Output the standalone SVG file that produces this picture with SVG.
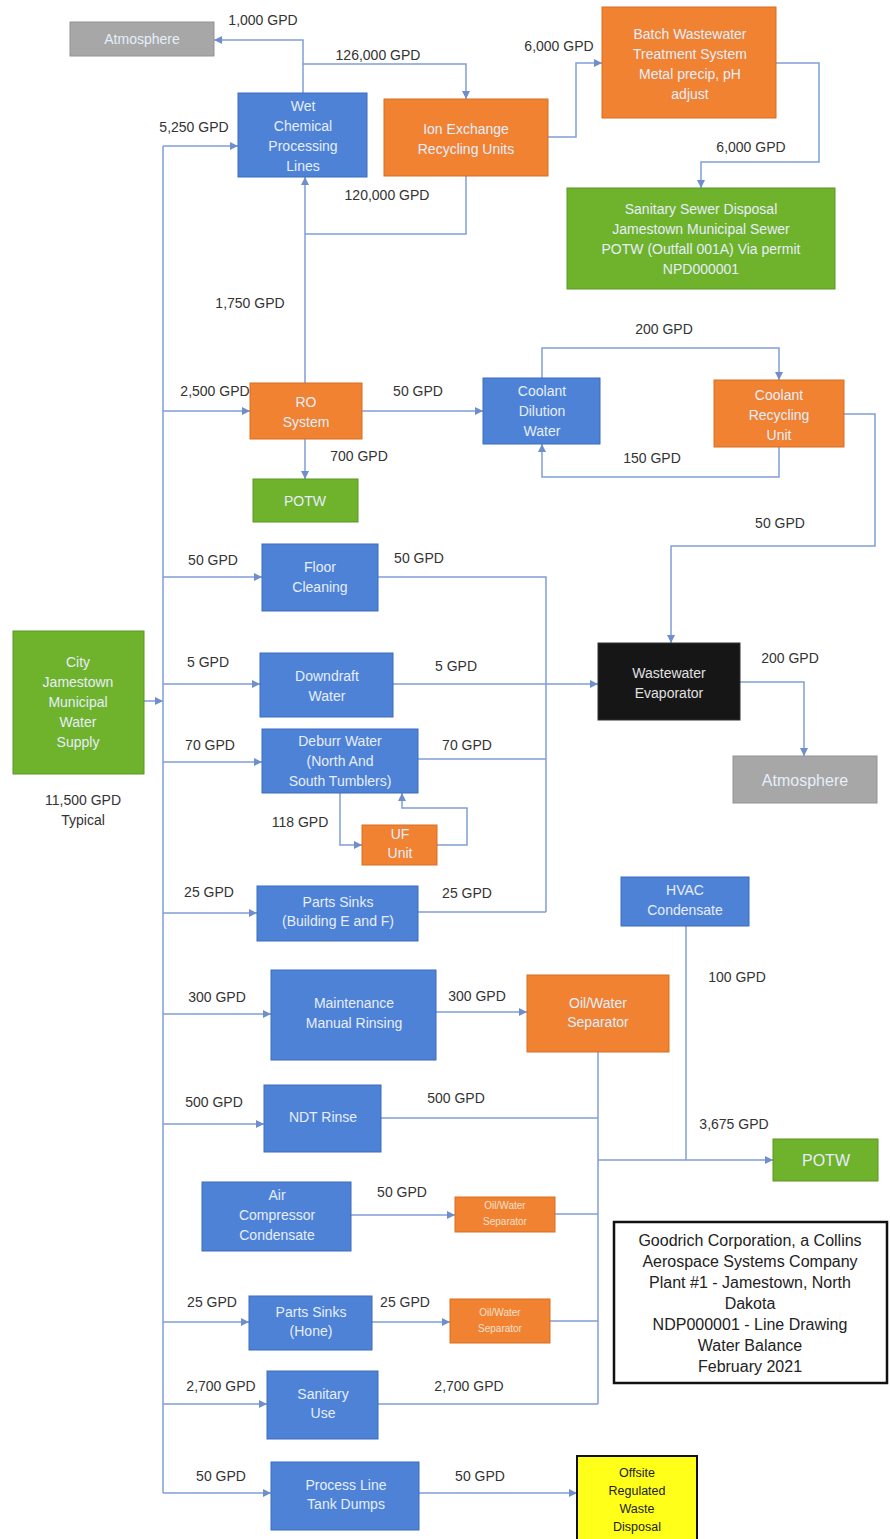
<svg xmlns="http://www.w3.org/2000/svg" width="890" height="1539" viewBox="0 0 890 1539">
<defs>
<marker id="arr" markerWidth="9" markerHeight="8" refX="8" refY="4" orient="auto" markerUnits="userSpaceOnUse">
<path d="M0,0 L8,4 L0,8 z" fill="#6f8fcc"/>
</marker>
<style>
text{font-family:"Liberation Sans",Arial,sans-serif;dominant-baseline:central;text-anchor:middle}
.lbl{font-size:14px;fill:#333}
.nt{font-size:14px;fill:#e6eefb}
.ns{font-size:10px;fill:#f6e0cc}
.blue{fill:#4e82d6;stroke:#3d6cbd;stroke-width:1}
.orange{fill:#f08232;stroke:#d86f22;stroke-width:1}
.green{fill:#6fb22c;stroke:#5a9621;stroke-width:1}
.gray{fill:#a7a7a7;stroke:#939393;stroke-width:1}
.black{fill:#161616;stroke:#333;stroke-width:1}
.yellow{fill:#ffff1a;stroke:#111;stroke-width:2}
.title{fill:#fff;stroke:#111;stroke-width:2.5}
.tt{font-size:16px;fill:#222}
.yt{font-size:12.5px;fill:#222}
.c{fill:none;stroke:#7f9fd6;stroke-width:1.5}
.a{marker-end:url(#arr)}
</style>
</defs>
<rect width="890" height="1539" fill="#fff"/>

<g id="connectors">
<path class="c a" d="M144,701 H163"/>
<path class="c" d="M163,146 V1493"/>
<path class="c a" d="M163,146 H238"/>
<path class="c a" d="M303,93 V40 H214"/>
<path class="c a" d="M303,64 H466 V99"/>
<path class="c" d="M466,176 V234 H305"/>
<path class="c a" d="M305,383 V177"/>
<path class="c a" d="M548,137 H576 V63 H602"/>
<path class="c a" d="M776,63 H819 V162 H701 V188"/>
<path class="c a" d="M163,411 H250"/>
<path class="c a" d="M305,439 V479"/>
<path class="c a" d="M362,411 H483"/>
<path class="c a" d="M542,378 V348 H779 V380"/>
<path class="c a" d="M779,447 V477 H542 V444"/>
<path class="c a" d="M844,414 H875 V546 H671 V643"/>
<path class="c a" d="M163,577 H262"/>
<path class="c" d="M378,577 H546 V912"/>
<path class="c a" d="M163,684 H260"/>
<path class="c a" d="M393,684 H598"/>
<path class="c a" d="M163,762 H262"/>
<path class="c" d="M418,759 H546"/>
<path class="c a" d="M340,793 V845 H362"/>
<path class="c a" d="M437,845 H467 V808 H402 V793"/>
<path class="c a" d="M163,913 H257"/>
<path class="c" d="M418,912 H546"/>
<path class="c a" d="M740,682 H804 V756"/>
<path class="c a" d="M163,1014 H271"/>
<path class="c a" d="M436,1012 H527"/>
<path class="c" d="M598,1052 V1404"/>
<path class="c a" d="M163,1124 H264"/>
<path class="c" d="M381,1118 H598"/>
<path class="c" d="M686,926 V1160"/>
<path class="c a" d="M598,1160 H773"/>
<path class="c a" d="M351,1215 H455"/>
<path class="c" d="M555,1214 H598"/>
<path class="c a" d="M163,1322 H249"/>
<path class="c a" d="M372,1322 H450"/>
<path class="c" d="M550,1321 H598"/>
<path class="c a" d="M163,1404 H267"/>
<path class="c" d="M378,1404 H598"/>
<path class="c a" d="M163,1493 H271"/>
<path class="c a" d="M419,1493 H577"/>
</g>

<g id="labels">
<text class="lbl" x="263" y="20">1,000 GPD</text>
<text class="lbl" x="378" y="55">126,000 GPD</text>
<text class="lbl" x="194" y="127">5,250 GPD</text>
<text class="lbl" x="387" y="195">120,000 GPD</text>
<text class="lbl" x="559" y="46">6,000 GPD</text>
<text class="lbl" x="751" y="147">6,000 GPD</text>
<text class="lbl" x="250" y="303">1,750 GPD</text>
<text class="lbl" x="215" y="391">2,500 GPD</text>
<text class="lbl" x="418" y="391">50 GPD</text>
<text class="lbl" x="359" y="456">700 GPD</text>
<text class="lbl" x="664" y="329">200 GPD</text>
<text class="lbl" x="652" y="458">150 GPD</text>
<text class="lbl" x="780" y="523">50 GPD</text>
<text class="lbl" x="213" y="560">50 GPD</text>
<text class="lbl" x="419" y="558">50 GPD</text>
<text class="lbl" x="208" y="662">5 GPD</text>
<text class="lbl" x="456" y="666">5 GPD</text>
<text class="lbl" x="210" y="745">70 GPD</text>
<text class="lbl" x="467" y="745">70 GPD</text>
<text class="lbl" x="300" y="822">118 GPD</text>
<text class="lbl" x="209" y="892">25 GPD</text>
<text class="lbl" x="467" y="893">25 GPD</text>
<text class="lbl" x="790" y="658">200 GPD</text>
<text class="lbl" x="737" y="977">100 GPD</text>
<text class="lbl" x="734" y="1124">3,675 GPD</text>
<text class="lbl" x="217" y="997">300 GPD</text>
<text class="lbl" x="477" y="996">300 GPD</text>
<text class="lbl" x="214" y="1102">500 GPD</text>
<text class="lbl" x="456" y="1098">500 GPD</text>
<text class="lbl" x="402" y="1192">50 GPD</text>
<text class="lbl" x="212" y="1302">25 GPD</text>
<text class="lbl" x="405" y="1302">25 GPD</text>
<text class="lbl" x="221" y="1386">2,700 GPD</text>
<text class="lbl" x="469" y="1386">2,700 GPD</text>
<text class="lbl" x="221" y="1476">50 GPD</text>
<text class="lbl" x="480" y="1476">50 GPD</text>
<text class="lbl" x="83" y="800">11,500 GPD</text>
<text class="lbl" x="83" y="820">Typical</text>
</g>

<g id="atmosphere-top"><rect class="gray" x="70" y="22" width="144" height="34"/><text class="nt" x="142" y="39">Atmosphere</text></g>
<g id="wet-chemical"><rect class="blue" x="238" y="93" width="129" height="84"/>
<text class="nt" x="303" y="106">Wet</text><text class="nt" x="303" y="126">Chemical</text><text class="nt" x="303" y="146">Processing</text><text class="nt" x="303" y="166">Lines</text></g>
<g id="ion-exchange"><rect class="orange" x="384" y="99" width="164" height="77"/>
<text class="nt" x="466" y="129">Ion Exchange</text><text class="nt" x="466" y="149">Recycling Units</text></g>
<g id="batch-wastewater"><rect class="orange" x="602" y="7" width="174" height="111"/>
<text class="nt" x="690" y="34">Batch Wastewater</text><text class="nt" x="690" y="54">Treatment System</text><text class="nt" x="690" y="74">Metal precip, pH</text><text class="nt" x="690" y="94">adjust</text></g>
<g id="sanitary-sewer"><rect class="green" x="567" y="188" width="268" height="101"/>
<text class="nt" x="701" y="209">Sanitary Sewer Disposal</text><text class="nt" x="701" y="229">Jamestown Municipal Sewer</text><text class="nt" x="701" y="249">POTW (Outfall 001A) Via permit</text><text class="nt" x="701" y="269">NPD000001</text></g>
<g id="ro-system"><rect class="orange" x="250" y="383" width="112" height="56"/>
<text class="nt" x="306" y="402">RO</text><text class="nt" x="306" y="422">System</text></g>
<g id="potw-ro"><rect class="green" x="253" y="479" width="105" height="43"/><text class="nt" x="305" y="501">POTW</text></g>
<g id="floor-cleaning"><rect class="blue" x="262" y="544" width="116" height="67"/>
<text class="nt" x="320" y="567">Floor</text><text class="nt" x="320" y="587">Cleaning</text></g>
<g id="coolant-dilution"><rect class="blue" x="483" y="378" width="117" height="66"/>
<text class="nt" x="542" y="391">Coolant</text><text class="nt" x="542" y="411">Dilution</text><text class="nt" x="542" y="431">Water</text></g>
<g id="coolant-recycling"><rect class="orange" x="714" y="380" width="130" height="67"/>
<text class="nt" x="779" y="395">Coolant</text><text class="nt" x="779" y="415">Recycling</text><text class="nt" x="779" y="435">Unit</text></g>
<g id="city-supply"><rect class="green" x="13" y="631" width="131" height="143"/>
<text class="nt" x="78" y="662">City</text><text class="nt" x="78" y="682">Jamestown</text><text class="nt" x="78" y="702">Municipal</text><text class="nt" x="78" y="722">Water</text><text class="nt" x="78" y="742">Supply</text></g>
<g id="downdraft"><rect class="blue" x="260" y="653" width="133" height="64"/>
<text class="nt" x="327" y="676">Downdraft</text><text class="nt" x="327" y="696">Water</text></g>
<g id="deburr"><rect class="blue" x="262" y="729" width="156" height="64"/>
<text class="nt" x="340" y="741">Deburr Water</text><text class="nt" x="340" y="761">(North And</text><text class="nt" x="340" y="781">South Tumblers)</text></g>
<g id="uf-unit"><rect class="orange" x="362" y="825" width="75" height="40"/>
<text class="nt" x="400" y="834">UF</text><text class="nt" x="400" y="853">Unit</text></g>
<g id="parts-sinks-ef"><rect class="blue" x="257" y="886" width="161" height="55"/>
<text class="nt" x="338" y="902">Parts Sinks</text><text class="nt" x="338" y="921">(Building E and F)</text></g>
<g id="evaporator"><rect class="black" x="598" y="643" width="142" height="77"/>
<text class="nt" x="669" y="673" style="fill:#e0e0e0">Wastewater</text><text class="nt" x="669" y="693" style="fill:#e0e0e0">Evaporator</text></g>
<g id="atmosphere-right"><rect class="gray" x="733" y="756" width="144" height="47"/><text class="nt" x="805" y="780" style="font-size:16px">Atmosphere</text></g>
<g id="hvac"><rect class="blue" x="621" y="877" width="128" height="49"/>
<text class="nt" x="685" y="890">HVAC</text><text class="nt" x="685" y="910">Condensate</text></g>
<g id="maintenance"><rect class="blue" x="271" y="970" width="165" height="90"/>
<text class="nt" x="354" y="1003">Maintenance</text><text class="nt" x="354" y="1023">Manual Rinsing</text></g>
<g id="oil-water-main"><rect class="orange" x="527" y="975" width="142" height="77"/>
<text class="nt" x="598" y="1003">Oil/Water</text><text class="nt" x="598" y="1022">Separator</text></g>
<g id="ndt-rinse"><rect class="blue" x="264" y="1085" width="117" height="67"/><text class="nt" x="323" y="1117">NDT Rinse</text></g>
<g id="air-compressor"><rect class="blue" x="202" y="1182" width="149" height="69"/>
<text class="nt" x="277" y="1195">Air</text><text class="nt" x="277" y="1215">Compressor</text><text class="nt" x="277" y="1235">Condensate</text></g>
<g id="oil-water-1"><rect class="orange" x="455" y="1197" width="100" height="35"/>
<text class="ns" x="505" y="1205">Oil/Water</text><text class="ns" x="505" y="1221">Separator</text></g>
<g id="potw-right"><rect class="green" x="773" y="1139" width="105" height="42"/><text class="nt" x="826" y="1160" style="font-size:16px">POTW</text></g>
<g id="parts-sinks-hone"><rect class="blue" x="249" y="1296" width="123" height="54"/>
<text class="nt" x="311" y="1312">Parts Sinks</text><text class="nt" x="311" y="1331">(Hone)</text></g>
<g id="oil-water-2"><rect class="orange" x="450" y="1299" width="100" height="44"/>
<text class="ns" x="500" y="1312">Oil/Water</text><text class="ns" x="500" y="1328">Separator</text></g>
<g id="sanitary-use"><rect class="blue" x="267" y="1371" width="111" height="68"/>
<text class="nt" x="323" y="1394">Sanitary</text><text class="nt" x="323" y="1413">Use</text></g>
<g id="process-line"><rect class="blue" x="271" y="1462" width="148" height="68"/>
<text class="nt" x="346" y="1485">Process Line</text><text class="nt" x="346" y="1504">Tank Dumps</text></g>
<g id="offsite"><rect class="yellow" x="577" y="1456" width="120" height="90"/>
<text class="yt" x="637" y="1473">Offsite</text><text class="yt" x="637" y="1491">Regulated</text><text class="yt" x="637" y="1509">Waste</text><text class="yt" x="637" y="1527">Disposal</text></g>
<g id="title-box"><rect class="title" x="614" y="1222" width="273" height="161"/>
<text class="tt" x="750" y="1240">Goodrich Corporation, a Collins</text>
<text class="tt" x="750" y="1261">Aerospace Systems Company</text>
<text class="tt" x="750" y="1282">Plant #1 - Jamestown, North</text>
<text class="tt" x="750" y="1303">Dakota</text>
<text class="tt" x="750" y="1324">NDP000001 - Line Drawing</text>
<text class="tt" x="750" y="1345">Water Balance</text>
<text class="tt" x="750" y="1366">February 2021</text>
</g>
</svg>
